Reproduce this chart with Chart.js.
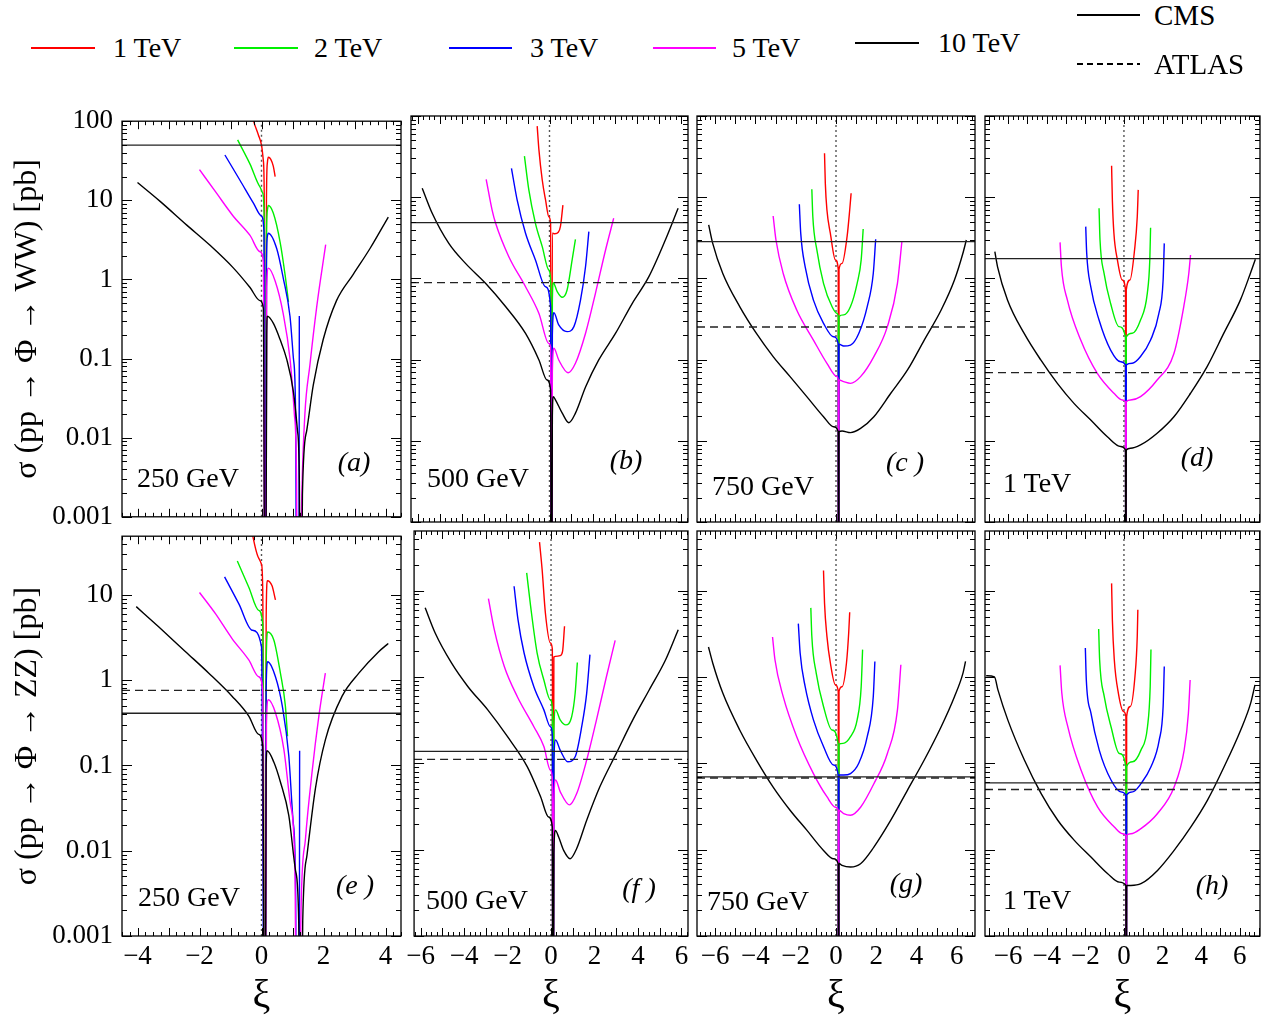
<!DOCTYPE html>
<html><head><meta charset="utf-8">
<script src="https://cdn.jsdelivr.net/npm/chart.js@4.4.0/dist/chart.umd.min.js"></script>
<style>
html,body{margin:0;padding:0;background:#fff;}
body{width:1267px;height:1028px;position:relative;overflow:hidden;font-family:"Liberation Serif","Times New Roman",serif;color:#000;}
canvas{position:absolute;}
.t{position:absolute;white-space:nowrap;line-height:1;transform:translateY(-50%);}
.tag{position:absolute;white-space:nowrap;line-height:1;transform:translate(-50%,-50%);font-style:italic;font-size:28px;}
.ln{position:absolute;height:2px;}
</style></head><body>
<script>
// ---------- data ----------
const massLabels=['1 TeV','2 TeV','3 TeV','5 TeV','10 TeV'];
const massColors=['#ff0000','#00f000','#0000ff','#ff00ff','#000000'];
const limitLabels=['CMS','ATLAS'];
const energyLabels=['250 GeV','500 GeV','750 GeV','1 TeV'];
const panelTags=['(a)','(b)','(c )','(d)','(e )','(f )','(g)','(h)'];
const xTicksNarrow=[-4,-2,0,2,4];
const xTicksWide=[-6,-4,-2,0,2,4,6];
const yTicksWW=[0.001,0.01,0.1,1,10,100];
const yLabelsWW=['0.001','0.01','0.1','1','10','100'];
const yTicksZZ=[0.001,0.01,0.1,1,10];
const yLabelsZZ=['0.001','0.01','0.1','1','10'];
const cmsWW=[49.7,4.86,2.83,1.75];
const atlasWW=[null,0.885,0.252,0.069];
const cmsZZ=[0.41,0.137,0.0695,0.0594];
const atlasZZ=[0.76,0.111,0.0675,0.0497];

// panel (a) WW, 250 GeV : [xi, sigma(pb)]
const a1=[[-0.30,120],[-0.26,102],[-0.10,67],[0.0,50],[0.06,31.6],[0.09,9.3],[0.12,1e-6],[0.16,10],[0.19,30],[0.22,35],[0.30,33],[0.38,27],[0.44,20]];
const a2=[[-0.77,58],[-0.37,28.7],[-0.05,14.8],[0.04,12.3],[0.09,5],[0.12,1e-6],[0.16,3],[0.19,7.5],[0.22,8.6],[0.38,6.9],[0.60,2.97],[0.76,1.15],[0.87,0.52]];
const a3=[[-1.18,37.4],[-0.69,17.8],[-0.26,9.2],[0.0,6.3],[0.08,4],[0.12,1e-6],[0.16,1.5],[0.19,3.5],[0.22,3.84],[0.49,2.46],[0.70,1.05],[0.92,0.34],[1.03,0.1],[1.10,0.02],[1.15,1e-6],[1.20,1e-6],[1.22,0.344]];
const a5=[[-2.0,24.4],[-1.45,12.3],[-0.91,6.3],[-0.37,3.6],[-0.05,2.24],[0.06,1.69],[0.12,1e-6],[0.17,0.8],[0.22,1.39],[0.44,0.955],[0.70,0.37],[0.92,0.099],[1.06,0.02],[1.13,0.003],[1.17,1e-6],[1.30,0.00186],[1.40,0.02],[1.56,0.082],[1.78,0.447],[2.07,2.75]];
const a10=[[-4.0,16.8],[-3.27,9.7],[-2.41,4.86],[-1.66,2.7],[-0.91,1.40],[-0.37,0.79],[-0.05,0.54],[0.06,0.43],[0.12,1e-6],[0.17,0.2],[0.19,0.344],[0.38,0.28],[0.60,0.174],[0.81,0.099],[1.03,0.038],[1.16,0.0124],[1.22,0.003],[1.26,1e-6],[1.32,0.0019],[1.46,0.0124],[1.67,0.046],[1.99,0.174],[2.42,0.54],[2.96,1.16],[3.5,2.46],[4.09,6.15]];
// panel (b) WW, 500 GeV
const b1=[[-0.56,75],[-0.48,38],[-0.33,16.3],[-0.18,9.25],[-0.03,5.75],[0.05,4.77],[0.09,1e-6],[0.13,3.6],[0.24,3.55],[0.40,3.7],[0.50,4.4],[0.61,8.0]];
const b2=[[-1.14,32],[-0.94,12.3],[-0.64,4.77],[-0.33,2.46],[-0.03,1.27],[0.05,0.955],[0.09,1e-6],[0.13,0.5],[0.17,0.885],[0.35,0.687],[0.58,0.585],[0.80,0.72],[1.03,1.69],[1.18,3.03]];
const b3=[[-1.73,22.7],[-1.47,9.2],[-1.09,3.6],[-0.64,1.69],[-0.18,0.79],[0.05,0.45],[0.09,1e-6],[0.13,0.2],[0.20,0.378],[0.42,0.267],[0.80,0.221],[1.11,0.255],[1.41,0.54],[1.64,1.40],[1.79,3.77]];
const b5=[[-2.88,16.6],[-2.61,6.95],[-2.45,4.77],[-1.85,1.85],[-1.09,0.79],[-0.48,0.37],[-0.03,0.158],[0.05,0.144],[0.09,1e-6],[0.13,0.07],[0.20,0.138],[0.42,0.099],[0.85,0.069],[1.18,0.09],[1.64,0.211],[2.09,0.655],[2.55,2.24],[2.92,5.5]];
const b10=[[-5.79,12.9],[-5.33,6.3],[-4.58,2.7],[-3.82,1.53],[-2.91,0.87],[-2.0,0.45],[-1.09,0.21],[-0.48,0.099],[-0.11,0.056],[0.05,0.042],[0.09,1e-6],[0.13,0.02],[0.17,0.035],[0.27,0.032],[0.58,0.0219],[0.88,0.0167],[1.18,0.0219],[1.64,0.046],[2.24,0.099],[3.0,0.21],[3.76,0.49],[4.52,1.05],[5.27,2.97],[5.85,7.3]];
// panel (c) WW, 750 GeV
const c1=[[-0.57,34.7],[-0.53,14.8],[-0.45,6.95],[-0.28,3.59],[-0.03,1.69],[0.11,1.3],[0.13,1e-6],[0.15,1.3],[0.30,1.53],[0.55,3.27],[0.68,6.95],[0.75,11.2]];
const c2=[[-1.2,12.5],[-1.15,5.75],[-0.95,2.24],[-0.62,0.87],[-0.2,0.45],[0.05,0.37],[0.11,0.34],[0.13,1e-6],[0.15,0.34],[0.38,0.355],[0.72,0.45],[1.05,0.87],[1.25,1.69],[1.35,4.05]];
const c3=[[-1.82,8.17],[-1.75,3.59],[-1.53,1.39],[-1.12,0.54],[-0.62,0.28],[-0.12,0.191],[0.11,0.158],[0.13,1e-6],[0.15,0.155],[0.38,0.147],[0.72,0.151],[1.13,0.21],[1.55,0.45],[1.85,1.15],[1.97,3.03]];
const c5=[[-3.12,5.87],[-2.98,2.97],[-2.62,1.15],[-1.95,0.408],[-1.12,0.174],[-0.45,0.09],[0.05,0.0617],[0.11,0.056],[0.13,1e-6],[0.15,0.056],[0.38,0.0535],[0.72,0.051],[1.22,0.0617],[1.88,0.109],[2.55,0.255],[3.05,0.87],[3.27,2.83]];
const c10=[[-6.32,4.55],[-6.12,2.7],[-5.62,1.15],[-4.78,0.45],[-3.95,0.21],[-3.12,0.109],[-2.28,0.0617],[-1.45,0.035],[-0.62,0.0198],[-0.12,0.0149],[0.11,0.013],[0.13,1e-6],[0.15,0.013],[0.30,0.0132],[0.72,0.0126],[1.22,0.0142],[1.88,0.0198],[2.72,0.0385],[3.55,0.0745],[4.38,0.174],[5.22,0.408],[5.88,0.955],[6.3,2.04],[6.47,2.97]];
// panel (d) WW, 1 TeV
const d1=[[-0.64,24.4],[-0.60,9.2],[-0.52,3.59],[-0.34,1.69],[-0.09,0.955],[0.08,0.72],[0.10,1e-6],[0.12,0.72],[0.31,0.955],[0.55,2.24],[0.69,5.75],[0.74,12.3]];
const d2=[[-1.29,7.3],[-1.24,2.97],[-1.03,1.15],[-0.69,0.49],[-0.26,0.255],[0.08,0.188],[0.10,1e-6],[0.12,0.19],[0.43,0.211],[0.86,0.307],[1.21,0.655],[1.34,1.69],[1.38,4.2]];
const d3=[[-1.98,4.34],[-1.93,2.04],[-1.72,0.79],[-1.29,0.307],[-0.69,0.131],[-0.17,0.094],[0.08,0.086],[0.10,1e-6],[0.12,0.086],[0.43,0.09],[0.86,0.109],[1.38,0.174],[1.81,0.37],[2.03,0.955],[2.09,2.7]];
const d5=[[-3.31,2.78],[-3.24,1.39],[-2.93,0.54],[-2.24,0.174],[-1.38,0.0676],[-0.52,0.0385],[-0.09,0.0318],[0.08,0.0303],[0.10,1e-6],[0.12,0.0303],[0.34,0.0318],[0.86,0.035],[1.72,0.056],[2.59,0.119],[3.10,0.45],[3.36,1.15],[3.45,1.94]];
const d10=[[-6.69,2.13],[-6.55,1.39],[-6.03,0.54],[-5.17,0.21],[-4.31,0.099],[-3.45,0.051],[-2.59,0.0289],[-1.72,0.018],[-0.86,0.0112],[-0.17,0.0085],[0.08,0.0077],[0.10,1e-6],[0.12,0.0077],[0.34,0.0081],[0.86,0.0089],[1.72,0.0124],[2.59,0.0198],[3.45,0.0385],[4.31,0.082],[5.17,0.21],[6.03,0.54],[6.55,1.15],[6.81,1.72]];
// panel (e) ZZ, 250 GeV
const e1=[[-0.35,70],[-0.28,48.9],[-0.09,27],[0.0,22.9],[0.04,11.2],[0.11,1e-6],[0.15,5],[0.19,14.7],[0.34,12.8],[0.45,8.75]];
const e2=[[-0.78,25],[-0.41,12.3],[-0.09,6.6],[0.04,4.6],[0.11,1e-6],[0.15,1.5],[0.20,3.68],[0.40,2.95],[0.61,1.21],[0.77,0.5],[0.84,0.22]];
const e3=[[-1.19,16.3],[-0.73,7.86],[-0.30,3.86],[0.0,2.47],[0.11,1e-6],[0.15,0.8],[0.20,1.65],[0.45,1.1],[0.67,0.5],[0.88,0.13],[1.02,0.022],[1.10,0.0037],[1.14,1e-6],[1.21,1e-6],[1.23,0.149]];
const e5=[[-2.0,10.7],[-1.48,6.0],[-0.95,3.08],[-0.41,1.73],[-0.09,1.1],[0.04,0.77],[0.11,1e-6],[0.16,0.3],[0.22,0.59],[0.45,0.415],[0.72,0.156],[0.94,0.034],[1.08,0.0058],[1.15,1e-6],[1.28,0.0024],[1.42,0.014],[1.63,0.083],[1.85,0.38],[2.06,1.21]];
const e10=[[-4.04,7.3],[-3.31,4.2],[-2.45,2.16],[-1.70,1.21],[-0.95,0.65],[-0.41,0.38],[-0.09,0.232],[0.04,0.17],[0.11,1e-6],[0.15,0.1],[0.18,0.149],[0.40,0.109],[0.61,0.064],[0.88,0.026],[1.10,0.0058],[1.20,0.0015],[1.25,1e-6],[1.33,0.0015],[1.47,0.009],[1.74,0.054],[2.06,0.2],[2.60,0.65],[3.14,1.21],[3.78,2.16],[4.09,2.7]];
// panel (f) ZZ, 500 GeV
const f1=[[-0.53,36.4],[-0.41,17.5],[-0.26,5.5],[-0.03,2.47],[0.06,2.1],[0.09,1e-6],[0.13,1.7],[0.20,1.73],[0.42,1.76],[0.53,1.97],[0.62,3.86]];
const f2=[[-1.12,16],[-0.94,6.6],[-0.64,1.89],[-0.33,0.92],[-0.03,0.54],[0.06,0.43],[0.09,1e-6],[0.13,0.25],[0.21,0.415],[0.42,0.318],[0.68,0.278],[0.95,0.347],[1.11,0.65],[1.21,1.47]];
const f3=[[-1.70,11.2],[-1.52,4.6],[-1.24,1.89],[-0.79,0.77],[-0.33,0.415],[-0.03,0.265],[0.06,0.21],[0.09,1e-6],[0.13,0.1],[0.21,0.186],[0.42,0.142],[0.77,0.104],[1.11,0.119],[1.41,0.265],[1.64,0.65],[1.79,1.81]];
const f5=[[-2.88,8.07],[-2.61,3.52],[-2.15,1.32],[-1.55,0.59],[-0.79,0.265],[-0.33,0.156],[-0.03,0.083],[0.06,0.068],[0.09,1e-6],[0.13,0.035],[0.21,0.064],[0.42,0.047],[0.85,0.033],[1.18,0.0446],[1.64,0.109],[2.09,0.318],[2.55,1.01],[2.95,2.65]];
const f10=[[-5.79,6.3],[-5.33,3.22],[-4.58,1.45],[-3.82,0.77],[-2.91,0.415],[-2.0,0.203],[-1.09,0.091],[-0.48,0.041],[-0.11,0.0239],[0.06,0.0183],[0.09,1e-6],[0.13,0.009],[0.20,0.0167],[0.35,0.014],[0.58,0.0098],[0.88,0.00785],[1.18,0.0103],[1.64,0.0219],[2.24,0.053],[3.0,0.13],[3.76,0.318],[4.52,0.71],[5.27,1.58],[5.85,3.52]];
// panel (g) ZZ, 750 GeV
const g1=[[-0.62,17.1],[-0.57,7.2],[-0.45,2.95],[-0.28,1.45],[-0.03,0.81],[0.11,0.68],[0.13,1e-6],[0.15,0.68],[0.30,0.77],[0.52,1.45],[0.63,3.22],[0.68,5.6]];
const g2=[[-1.25,6.3],[-1.2,2.95],[-0.98,1.1],[-0.62,0.454],[-0.2,0.243],[0.11,0.167],[0.13,1e-6],[0.15,0.167],[0.35,0.17],[0.72,0.203],[1.05,0.318],[1.25,0.77],[1.32,2.07]];
const g3=[[-1.87,4.14],[-1.78,1.89],[-1.53,0.77],[-1.12,0.318],[-0.62,0.156],[-0.12,0.0953],[0.11,0.073],[0.13,1e-6],[0.15,0.073],[0.38,0.073],[0.72,0.076],[1.13,0.1],[1.55,0.203],[1.85,0.59],[1.93,1.51]];
const g5=[[-3.15,2.9],[-3.03,1.58],[-2.62,0.59],[-1.95,0.203],[-1.12,0.076],[-0.45,0.041],[-0.02,0.031],[0.11,0.0286],[0.13,1e-6],[0.15,0.0286],[0.38,0.0262],[0.72,0.025],[1.22,0.031],[1.88,0.058],[2.55,0.13],[3.05,0.415],[3.22,1.38]];
const g10=[[-6.33,2.22],[-6.12,1.45],[-5.62,0.65],[-4.78,0.243],[-3.95,0.109],[-3.12,0.053],[-2.28,0.0286],[-1.45,0.0168],[-0.62,0.0098],[-0.12,0.00785],[0.11,0.00687],[0.13,1e-6],[0.15,0.0069],[0.30,0.00657],[0.72,0.0063],[1.22,0.00687],[1.88,0.0107],[2.72,0.0219],[3.55,0.0489],[4.38,0.109],[5.22,0.265],[5.88,0.59],[6.3,1.1],[6.43,1.51]];
// panel (h) ZZ, 1 TeV
const h1=[[-0.64,12.1],[-0.60,4.6],[-0.5,1.58],[-0.29,0.65],[-0.02,0.397],[0.10,0.347],[0.12,1e-6],[0.14,0.347],[0.33,0.454],[0.57,1.01],[0.69,2.95],[0.72,6.0]];
const h2=[[-1.31,3.59],[-1.26,1.58],[-1.02,0.59],[-0.67,0.265],[-0.24,0.13],[0.10,0.091],[0.12,1e-6],[0.14,0.092],[0.45,0.104],[0.88,0.142],[1.22,0.265],[1.36,0.77],[1.40,2.07]];
const h3=[[-2.0,2.16],[-1.95,0.92],[-1.71,0.38],[-1.28,0.142],[-0.67,0.064],[-0.16,0.0467],[0.10,0.0427],[0.12,1e-6],[0.14,0.043],[0.45,0.0467],[0.88,0.058],[1.40,0.091],[1.83,0.186],[2.03,0.454],[2.09,1.32]];
const h5=[[-3.31,1.36],[-3.22,0.65],[-2.91,0.265],[-2.22,0.083],[-1.36,0.031],[-0.5,0.0183],[-0.07,0.0153],[0.10,0.0147],[0.12,1e-6],[0.14,0.0147],[0.36,0.0153],[0.88,0.0175],[1.74,0.0262],[2.60,0.053],[3.12,0.142],[3.34,0.38],[3.43,0.92]];
const h10=[[-7.14,1.03],[-6.71,1.0],[-6.53,0.708],[-6.02,0.318],[-5.16,0.109],[-4.29,0.0446],[-3.43,0.0219],[-2.57,0.0128],[-1.71,0.0082],[-0.84,0.00526],[-0.24,0.0042],[0.10,0.00385],[0.12,1e-6],[0.14,0.00385],[0.36,0.00385],[0.88,0.00403],[1.74,0.00575],[2.60,0.0098],[3.47,0.0183],[4.33,0.0374],[5.19,0.091],[6.05,0.243],[6.57,0.5],[6.79,0.81]];

const xRanges=[[-4.5,4.5],[-6.3,6.3],[-6.9,6.9],[-7.2,7.05]];
const yRanges=[[0.001,100],[0.001,48.9]];

// ---------- layout ----------
const colL=[122,411,697,985], colR=[401,688,975,1260];
const rowT=[116,531], rowB=[522,936];
const FONT='"Liberation Serif","Times New Roman",serif';

const frame={
  id:'frame',
  afterDatasetsDraw(chart){
    const {ctx,chartArea:{left,right,top,bottom},scales:{x,y}}=chart;
    ctx.save();
    ctx.strokeStyle='#000';ctx.lineWidth=1.3;
    ctx.strokeRect(left,top,right-left,bottom-top);
    ctx.beginPath();ctx.lineWidth=1;
    const step=0.25;
    for(let v=Math.ceil(x.min/step)*step; v<=x.max+1e-9; v+=step){
      const px=Math.round(x.getPixelForValue(v))+0.5;
      const L=Math.abs(v-Math.round(v))<1e-6?8:4;
      ctx.moveTo(px,bottom);ctx.lineTo(px,bottom-L);
      ctx.moveTo(px,top);ctx.lineTo(px,top+L);
    }
    for(let d=Math.floor(Math.log10(y.min));d<=Math.ceil(Math.log10(y.max));d++){
      for(let k=1;k<10;k++){
        const v=k*Math.pow(10,d);
        if(v<y.min*0.999||v>y.max*1.001)continue;
        const py=Math.round(y.getPixelForValue(v))+0.5;
        const L=k===1?10:5;
        ctx.moveTo(left,py);ctx.lineTo(left+L,py);
        ctx.moveTo(right,py);ctx.lineTo(right-L,py);
      }
    }
    ctx.stroke();ctx.restore();
  }
};

const panelCurves=[[a1,a2,a3,a5,a10],[b1,b2,b3,b5,b10],[c1,c2,c3,c5,c10],[d1,d2,d3,d5,d10],
                   [e1,e2,e3,e5,e10],[f1,f2,f3,f5,f10],[g1,g2,g3,g5,g10],[h1,h2,h3,h5,h10]];

function fmtX(v){return String(v).replace('-','\u2212');}

function makePanel(idx){
  const row=Math.floor(idx/4), col=idx%4;
  const L=colL[col],R=colR[col],T=rowT[row],B=rowB[row];
  const padL=col===0?122:10, padR=15, padT=20, padB=row===0?20:92;
  const W=padL+(R-L)+padR, H=padT+(B-T)+padB;
  const cv=document.createElement('canvas');
  cv.width=W;cv.height=H;
  cv.style.left=(L-padL)+'px';cv.style.top=(T-padT)+'px';
  cv.style.width=W+'px';cv.style.height=H+'px';
  document.body.appendChild(cv);
  const [xmin,xmax]=xRanges[col];
  const [ymin,ymax]=yRanges[row];
  const cms=(row===0?cmsWW:cmsZZ)[col], atlas=(row===0?atlasWW:atlasZZ)[col];
  const yT=row===0?yTicksWW:yTicksZZ, yL=row===0?yLabelsWW:yLabelsZZ;
  const xT=col===0?xTicksNarrow:xTicksWide;
  const ds=[];
  ds.push({label:'xi0',data:[{x:0,y:ymin},{x:0,y:ymax}],borderColor:'#555',borderWidth:1.4,borderDash:[2,3],order:20,tension:0});
  panelCurves[idx].forEach((arr,i)=>{
    ds.push({label:massLabels[i],data:arr.map(p=>({x:p[0],y:p[1]})),borderColor:massColors[i],borderWidth:1.4,
      cubicInterpolationMode:'monotone',order:10-i});
  });
  if(cms!=null) ds.push({label:limitLabels[0],data:[{x:xmin,y:cms},{x:xmax,y:cms}],borderColor:'#222',borderWidth:1.3,order:1,tension:0});
  if(atlas!=null) ds.push({label:limitLabels[1],data:[{x:xmin,y:atlas},{x:xmax,y:atlas}],borderColor:'#222',borderWidth:1.3,borderDash:[8,5],order:0,tension:0});
  new Chart(cv,{type:'line',data:{datasets:ds},
    options:{responsive:false,animation:false,devicePixelRatio:1,
      layout:{padding:{top:padT,right:padR,left:0,bottom:0}},
      plugins:{legend:{display:false},tooltip:{enabled:false}},
      elements:{point:{radius:0}},
      scales:{
        x:{type:'linear',min:xmin,max:xmax,
          grid:{display:false,drawTicks:false},border:{display:false},
          afterBuildTicks:s=>{s.ticks=xT.map(v=>({value:v}));},
          afterFit:s=>{s.height=padB;},
          ticks:{display:row===1,padding:5,color:'#000',font:{family:FONT,size:27},callback:v=>fmtX(v),maxRotation:0,autoSkip:false},
          title:{display:row===1,text:'\u03be',color:'#000',font:{family:FONT,size:40},padding:{top:0,bottom:8}}},
        y:{type:'logarithmic',min:ymin,max:ymax,
          grid:{display:false,drawTicks:false},border:{display:false},
          afterBuildTicks:s=>{s.ticks=yT.map(v=>({value:v}));},
          afterFit:s=>{s.width=padL;},
          ticks:{display:col===0,padding:9,color:'#000',font:{family:FONT,size:27},autoSkip:false,
            callback:v=>{const k=yT.findIndex(t=>Math.abs(t-v)/t<1e-6);return k>=0?yL[k]:'';}},
          title:{display:col===0,text:row===0?'\u03c3 (pp \u2192 \u03a6 \u2192 WW) [pb]':'\u03c3 (pp \u2192 \u03a6 \u2192 ZZ) [pb]',
            color:'#000',font:{family:FONT,size:32},padding:{top:8,bottom:0}}}
      }},
    plugins:[frame]});
}
for(let i=0;i<8;i++) makePanel(i);

// ---------- text labels ----------
function addText(txt,x,y,size,cls){
  const d=document.createElement('div');d.className=cls||'t';d.textContent=txt;
  d.style.left=x+'px';d.style.top=y+'px';if(size)d.style.fontSize=size+'px';
  document.body.appendChild(d);return d;
}
const energyPos=[[137,478],[427,478],[712,486],[1003,483],[138,897],[426,900],[707,901],[1003,900]];
const tagPos=[[354,462],[626,460],[905,462],[1197,457],[355,885],[639,888],[906,883],[1212,885]];
for(let i=0;i<8;i++){
  addText(energyLabels[i%4],energyPos[i][0],energyPos[i][1],28);
  addText(panelTags[i],tagPos[i][0],tagPos[i][1],null,'tag');
}
// legend
const legLine=[[31,95,48],[234,298,48],[449,512,48],[653,716,48],[855,919,43]];
const legText=[113,314,530,732,938];
massLabels.forEach((m,i)=>{
  const l=document.createElement('div');l.className='ln';
  l.style.left=legLine[i][0]+'px';l.style.width=(legLine[i][1]-legLine[i][0])+'px';
  l.style.top=(legLine[i][2]-1)+'px';l.style.backgroundColor=massColors[i];
  document.body.appendChild(l);
  addText(m,legText[i],legLine[i][2],28);
});
[[15,false],[64,true]].forEach((s,i)=>{
  const l=document.createElement('div');l.className='ln';
  l.style.left='1077px';l.style.width='63px';l.style.top=(s[0]-1)+'px';
  if(s[1]) l.style.background='repeating-linear-gradient(90deg,#000 0 6px,transparent 6px 10px)';
  else l.style.backgroundColor='#000';
  document.body.appendChild(l);
  addText(limitLabels[i],1154,s[0],29);
});
</script>
</body></html>
